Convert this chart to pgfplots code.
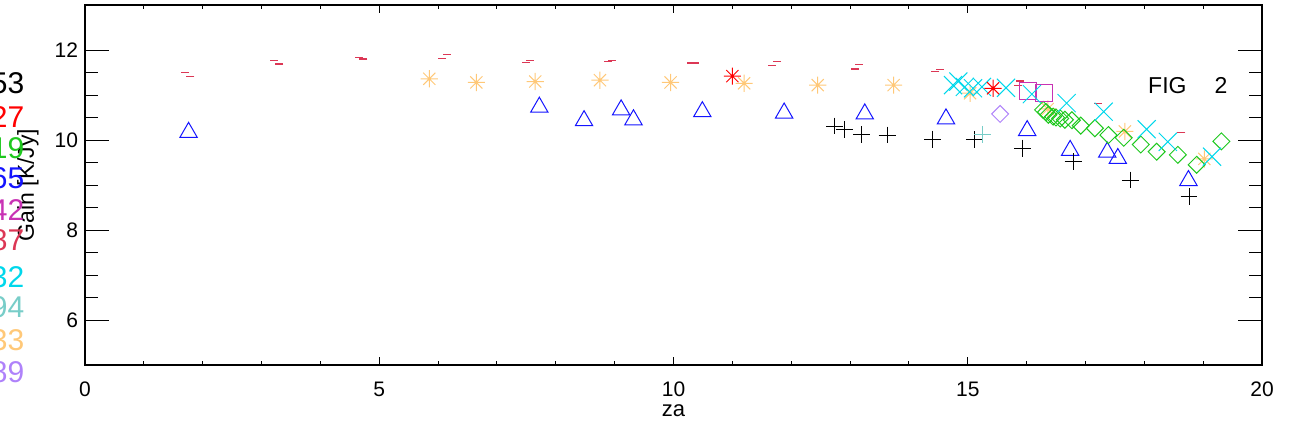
\documentclass[border=0pt]{standalone}
\usepackage{fontspec}
\setmainfont{Liberation Sans}
\usepackage{pgfplots}
\pgfplotsset{compat=1.18}

\definecolor{c53}{RGB}{0,0,0}
\definecolor{c27}{RGB}{255,0,0}
\definecolor{c19}{RGB}{30,200,30}
\definecolor{c65}{RGB}{20,20,255}
\definecolor{c42}{RGB}{200,50,180}
\definecolor{c87}{RGB}{220,55,85}
\definecolor{c32}{RGB}{0,215,235}
\definecolor{c94}{RGB}{120,205,200}
\definecolor{c33}{RGB}{255,200,120}
\definecolor{c89}{RGB}{175,130,250}

% eight-armed asterisk (IDL psym=2)
\pgfdeclareplotmark{ast8}{%
  \pgfpathmoveto{\pgfpointpolar{0}{\pgfplotmarksize}}\pgfpathlineto{\pgfpointpolar{180}{\pgfplotmarksize}}%
  \pgfpathmoveto{\pgfpointpolar{45}{\pgfplotmarksize}}\pgfpathlineto{\pgfpointpolar{225}{\pgfplotmarksize}}%
  \pgfpathmoveto{\pgfpointpolar{90}{\pgfplotmarksize}}\pgfpathlineto{\pgfpointpolar{270}{\pgfplotmarksize}}%
  \pgfpathmoveto{\pgfpointpolar{135}{\pgfplotmarksize}}\pgfpathlineto{\pgfpointpolar{315}{\pgfplotmarksize}}%
  \pgfusepathqstroke}

\pgfplotsset{
  idlframe/.style={
    at={(42.5pt,32.5pt)}, anchor=south west,
    width=588.5pt, height=180pt, scale only axis,
    xmin=0, xmax=20, ymin=5, ymax=13,
    tick align=inside,
    tick style={black, line width=0.5pt},
    axis line style={line width=0.6pt},
    ticklabel style={font=\fontsize{10.5}{12}\selectfont},
    /pgf/number format/assume math mode=true,
  },
}

\begin{document}
\begin{tikzpicture}
\path[use as bounding box, clip] (0pt,0pt) rectangle (645pt,215pt);
% frame with the long y ticks
\begin{axis}[
  idlframe,
  xtick=\empty,
  ytick={6,8,10,12}, minor y tick num=3,
  tickwidth=12pt, subtickwidth=6.3pt,
  ylabel={Gain [K/Jy]},
  every axis y label/.style={at={(axis description cs:0,0.5)}, xshift=-28.5pt, rotate=90, anchor=center, font=\fontsize{11.5}{13}\selectfont},
]
\end{axis}
% x ticks and the data
\begin{axis}[
  idlframe,
  xtick={0,5,10,15,20}, minor x tick num=4,
  ytick=\empty,
  tickwidth=4pt, subtickwidth=2.2pt,
  xticklabel style={yshift=-5pt},
  xlabel={za},
  every axis x label/.style={at={(axis description cs:0.5,0)}, yshift=-23pt, anchor=center, font=\fontsize{11}{13}\selectfont},
  clip=false,
  only marks,
  every axis plot/.append style={line width=0.5pt},
]
% 87: dashes
\addplot[mark=-, mark size=2pt, c87, mark options={line width=0.6pt}] coordinates {
  (1.70,11.50) (1.79,11.42) (3.21,11.77) (3.30,11.69) (4.66,11.83) (4.73,11.80)
  (6.07,11.82) (6.15,11.90) (7.49,11.72) (7.56,11.77) (8.88,11.74) (8.95,11.77)
  (10.30,11.71) (10.36,11.71) (11.67,11.65) (11.76,11.75) (13.08,11.58) (13.15,11.67)
  (14.45,11.52) (14.52,11.56) (15.85,11.22) (15.88,11.31) (17.21,10.82) (18.63,10.16)
};
% 33: asterisks
\addplot[mark=ast8, mark size=4.3pt, c33] coordinates {
  (5.85,11.36) (6.65,11.28) (7.65,11.30) (8.75,11.33) (9.95,11.28) (11.20,11.26)
  (12.45,11.22) (13.74,11.22) (15.04,11.04) (16.36,10.69) (17.67,10.19) (19.02,9.58)
};
% 65: triangles
\addplot[mark=triangle, mark size=5pt, c65] coordinates {
  (1.76,10.17) (7.72,10.73) (8.48,10.43) (9.11,10.67) (9.32,10.45) (10.49,10.63)
  (11.88,10.60) (13.25,10.58) (14.63,10.47) (16.01,10.21) (16.74,9.77) (17.37,9.73)
  (17.55,9.59) (18.75,9.10)
};
% 53: plus
\addplot[mark=+, mark size=4.2pt, c53] coordinates {
  (12.74,10.31) (12.90,10.24) (13.20,10.12) (13.63,10.11) (14.40,10.02) (15.11,10.01)
  (15.93,9.82) (16.79,9.52) (17.76,9.11) (18.76,8.74)
};
% 94: plus
\addplot[mark=+, mark size=4.2pt, c94] coordinates {(15.25,10.13)};
% 89: diamond
\addplot[mark=square, mark size=3pt, c89, mark options={rotate=45}] coordinates {(15.55,10.58)};
% 19: diamonds
\addplot[mark=square, mark size=3pt, c19, mark options={rotate=45}] coordinates {
  (16.28,10.67) (16.33,10.62) (16.37,10.56) (16.45,10.52) (16.50,10.50) (16.57,10.48)
  (16.65,10.45) (16.77,10.44) (16.92,10.32) (17.16,10.26) (17.39,10.11) (17.65,10.05)
  (17.94,9.90) (18.21,9.74) (18.57,9.67) (18.89,9.45) (19.31,9.97)
};
% 42: squares
\addplot[mark=square, mark size=4.3pt, c42] coordinates {(16.03,11.09) (16.30,11.04)};
% 32: crosses
\addplot[mark=x, mark size=6.4pt, c32] coordinates {
  (14.75,11.22) (14.84,11.30) (14.95,11.18) (15.09,11.15) (15.24,11.18) (15.65,11.16)
  (16.09,11.02) (16.68,10.82) (17.31,10.63) (18.04,10.24) (18.40,9.96) (19.15,9.63)
};
% 27: asterisks
\addplot[mark=ast8, mark size=4.3pt, c27] coordinates {(11.00,11.42) (15.43,11.15)};

\node[anchor=west, inner sep=0pt, font=\fontsize{11.5}{13}\selectfont] at (axis cs:18.06,11.22) {FIG\hspace{14pt}2};
\end{axis}
\begin{scope}[font=\fontsize{15}{17}\selectfont, every node/.style={anchor=east, inner sep=0pt}]
\node[text=c53] at (12.3pt,173.5pt) {53};
\node[text=c27] at (12.3pt,156.7pt) {27};
\node[text=c19] at (12.3pt,141.0pt) {19};
\node[text=c65] at (12.3pt,126.0pt) {65};
\node[text=c42] at (12.3pt,110.0pt) {42};
\node[text=c87] at (12.3pt,95.0pt) {87};
\node[text=c32] at (12.3pt,76.5pt) {32};
\node[text=c94] at (12.3pt,61.5pt) {94};
\node[text=c33] at (12.3pt,45.0pt) {33};
\node[text=c89] at (12.3pt,29.0pt) {89};
\end{scope}
\end{tikzpicture}
\end{document}
